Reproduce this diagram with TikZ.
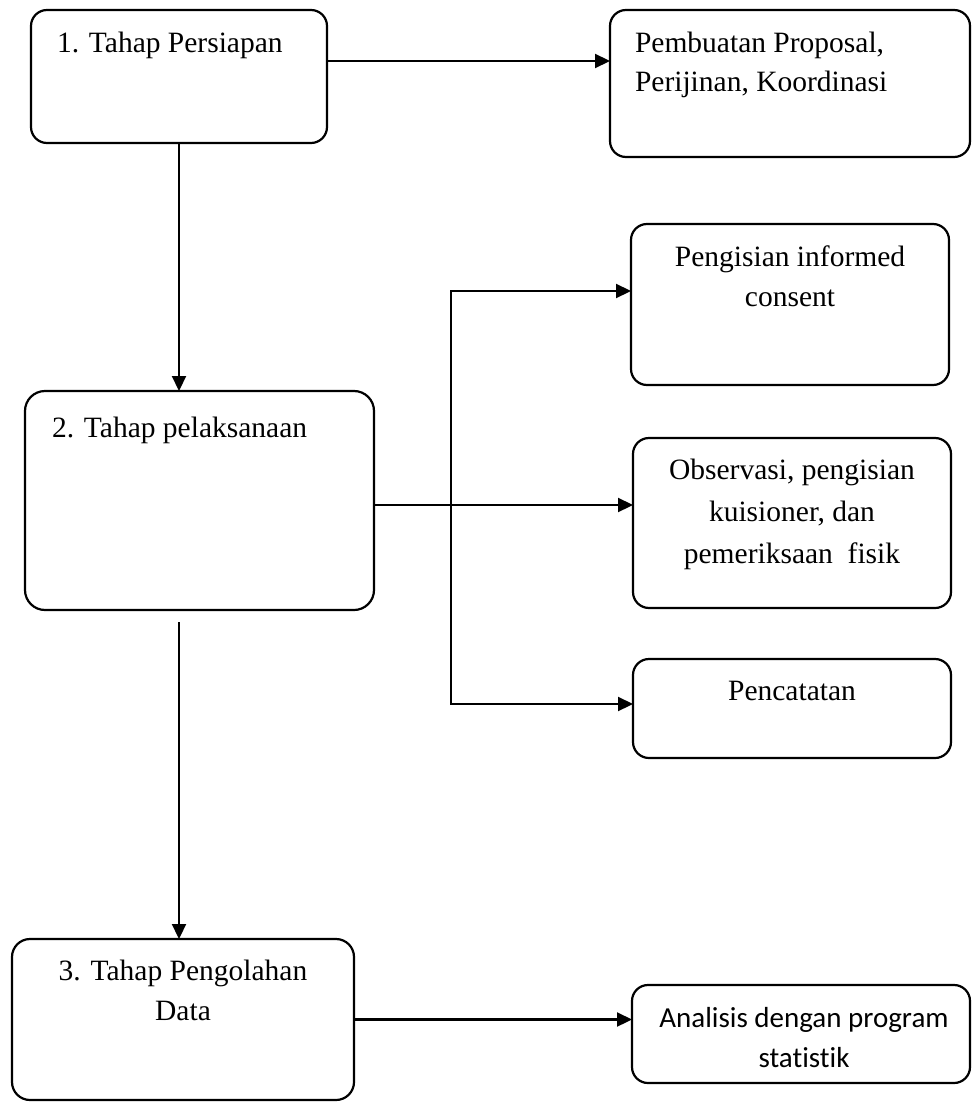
\documentclass[tikz,border=0pt]{standalone}
\usepackage{fontspec}
\setmainfont{Liberation Serif}
\newfontfamily\calibrifont[Ligatures=NoCommon]{Carlito}
\usetikzlibrary{arrows.meta}

\begin{document}
\begin{tikzpicture}[x=1pt,y=-1pt,
  box/.style={draw=black,line width=2.2pt,rounded corners=16pt,inner sep=0pt,outer sep=0pt},
  lbl/.style={inner sep=0pt,outer sep=0pt,anchor=base west,font=\fontsize{29.5}{39}\selectfont},
  clbl/.style={lbl,anchor=base},
  link/.style={draw=black,line width=2.2pt},
  arr/.style={link,-{Triangle[length=15pt,width=14pt]}}]
\path[use as bounding box] (0,0) rectangle (971,1102);
\path[fill=white,draw=none] (0,0) rectangle (971,1102);
% left column
\node[box,minimum width=296pt,minimum height=133pt] (persiapan) at (179,76.5) {};
\node[lbl] (persiapantxt) at (57,53) {1. Tahap Persiapan};
\node[box,rounded corners=20pt,minimum width=349pt,minimum height=219pt] (pelaksanaan) at (199.5,500.5) {};
\node[lbl] (pelaksanaantxt) at (52,437) {2. Tahap pelaksanaan};
\node[box,rounded corners=18pt,minimum width=342pt,minimum height=161pt] (pengolahan) at (183,1019.5) {};
\node[clbl] (pengolahantxt1) at (183,980) {3. Tahap Pengolahan};
\node[clbl] (pengolahantxt2) at (183,1020) {Data};
% right column
\node[box,minimum width=360pt,minimum height=147pt] (proposal) at (790,83.5) {};
\node[lbl] (proposaltxt1) at (635,53) {Pembuatan Proposal,};
\node[lbl] (proposaltxt2) at (635,92) {Perijinan, Koordinasi};
\node[box,minimum width=318pt,minimum height=161pt] (consent) at (790,304.5) {};
\node[clbl] (consenttxt1) at (790,266) {Pengisian informed};
\node[clbl] (consenttxt2) at (790,306) {consent};
\node[box,minimum width=318pt,minimum height=170pt] (observasi) at (792,523) {};
\node[clbl] (observasitxt1) at (792,479) {Observasi, pengisian};
\node[clbl] (observasitxt2) at (792,521) {kuisioner, dan};
\node[clbl] (observasitxt3) at (792,563) {pemeriksaan\ \ fisik};
\node[box,minimum width=318pt,minimum height=99pt] (pencatatan) at (792,708.5) {};
\node[clbl] (pencatatantxt) at (792,700) {Pencatatan};
\node[box,minimum width=338pt,minimum height=98pt] (analisis) at (801,1034) {};
\node[clbl,font=\calibrifont\fontsize{29}{39}\selectfont] (analisistxt1) at (804,1027) {Analisis dengan program};
\node[clbl,font=\calibrifont\fontsize{29}{39}\selectfont] (analisistxt2) at (804,1067) {statistik};
% connectors
\coordinate (hub) at (451,505);
\coordinate (hubtop) at (451,291);
\coordinate (hubbot) at (451,704);
\coordinate (gap) at (179,622);
\draw[arr] ([yshift=15.5pt]persiapan.east) -- ([yshift=15.5pt]persiapan.east -| proposal.west);
\draw[arr] (persiapan.south) -- (persiapan.south |- pelaksanaan.north);
\draw[arr] (pelaksanaan.east |- hub) -- (hub -| observasi.west);
\draw[arr] (hub) -- (hubtop) -- (hubtop -| consent.west);
\draw[arr] (hub) -- (hubbot) -- (hubbot -| pencatatan.west);
\draw[arr] (gap) -- (gap |- pengolahan.north);
\draw[arr] (pengolahan.east) -- (pengolahan.east -| analisis.west);
\end{tikzpicture}
\end{document}
